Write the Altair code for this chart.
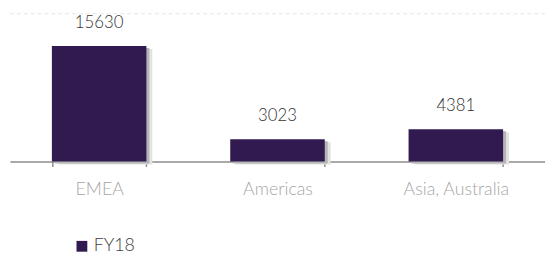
import altair as alt
import pandas as pd

regions = ["EMEA", "Americas", "Asia, Australia"]
values = [15630, 3023, 4381]
series = ["FY18", "FY18", "FY18"]

df = pd.DataFrame({"region": regions, "value": values, "series": series})

FONT = "Lato"
x = alt.X("region:N", sort=regions, title=None,
          scale=alt.Scale(paddingInner=0.47, paddingOuter=0.235),
          axis=alt.Axis(labelAngle=0, labelColor="#a6a6a6", labelFontSize=18,
                        labelFont=FONT, labelFontWeight=300, labelPadding=14,
                        domainColor="#8c8c8c", domainWidth=1.5, tickColor="#8c8c8c",
                        tickWidth=1.5, tickSize=5, tickBand="extent", grid=False))
y = alt.Y("value:Q", title=None, scale=alt.Scale(domain=[0, 20000]), axis=None)

base = alt.Chart(df)

grid = alt.Chart(pd.DataFrame({"v": [20000]})).mark_rule(
    color="#e6e6e6", strokeDash=[4, 3], strokeWidth=1
).encode(y=alt.Y("v:Q", scale=alt.Scale(domain=[0, 20000]), axis=None))

shadow2 = base.mark_bar(color="#e2e2e2", xOffset=6, yOffset=3).encode(x=x, y=y)
shadow1 = base.mark_bar(color="#b4b4b4", xOffset=3, yOffset=2).encode(x=x, y=y)
bars = base.mark_bar(color="#311a4f").encode(
    x=x, y=y,
    color=alt.Color("series:N", scale=alt.Scale(range=["#311a4f"]),
                    legend=alt.Legend(title=None, orient="none", legendX=64, legendY=227,
                                      symbolType="square", symbolSize=120,
                                      symbolStrokeWidth=0,
                                      labelFont=FONT, labelFontWeight=300,
                                      labelFontSize=18, labelColor="#404040",
                                      labelOffset=3)))
text = base.mark_text(dy=-23, fontSize=17, font=FONT, fontWeight=300,
                      color="#333333").encode(x=x, y=y, text=alt.Text("value:Q", format="d"))

chart = alt.layer(grid, shadow2, shadow1, bars, text).properties(
    width=543, height=150,
    autosize=alt.AutoSizeParams(type="none"),
    padding={"left": 2, "top": 4, "right": 0, "bottom": 93},
).configure_view(stroke=None)

chart.save("out.html", embed_options={"renderer": "svg", "actions": False})
